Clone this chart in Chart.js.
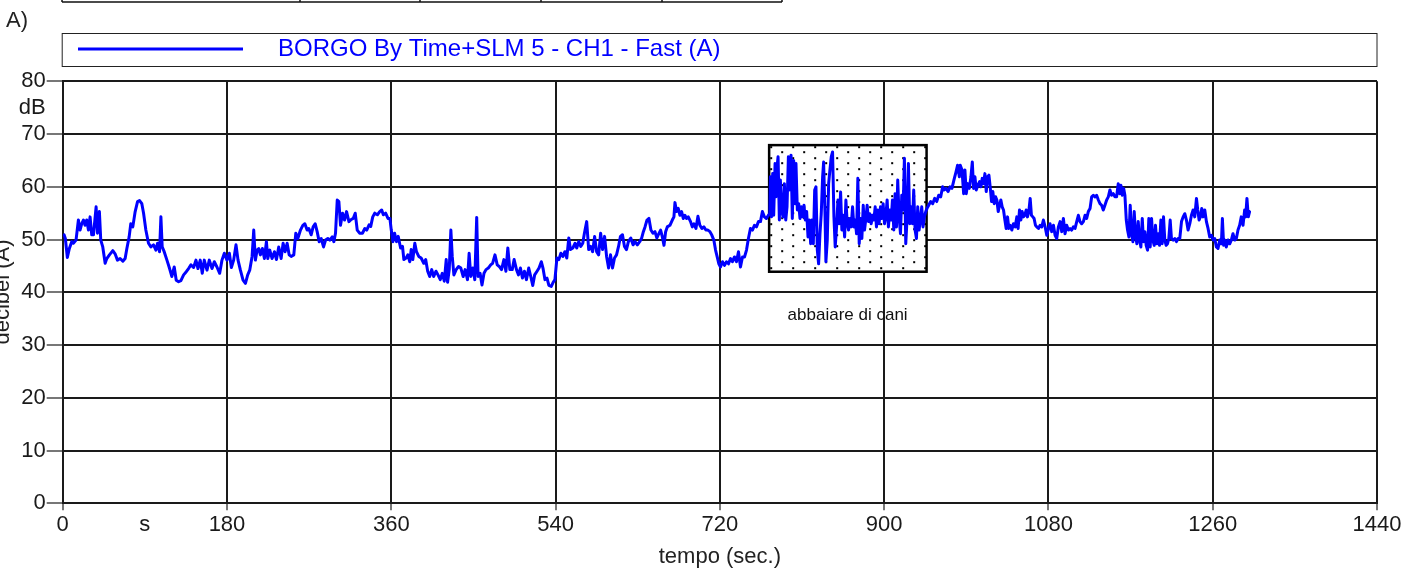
<!DOCTYPE html>
<html>
<head>
<meta charset="utf-8">
<script src="https://cdn.jsdelivr.net/npm/chart.js@4.4.1/dist/chart.umd.min.js"></script>
<style>
  body { margin: 0; background: #fff; }
  canvas { display: block; }
</style>
</head>
<body>
<canvas id="myChart" width="1423" height="572"></canvas>
<script>
const FONT = "'Liberation Sans', Arial, sans-serif";
const LEGEND_LABEL = 'BORGO By Time+SLM 5 - CH1 - Fast (A)';
const PANEL_LABEL = 'A)';
const X_TITLE = 'tempo (sec.)';
const Y_TITLE = 'decibel (A)';

// tick positions (seconds / dB) and their labels
const xTickValues = [0, 90, 180, 270, 360, 450, 540, 630, 720, 810, 900, 990, 1080, 1170, 1260, 1350, 1440];
const xTickLabels = ['0', 's', '180', '', '360', '', '540', '', '720', '', '900', '', '1080', '', '1260', '', '1440'];
const yTickValues = [0, 10, 20, 30, 40, 50, 60, 70, 75, 80];
const yTickLabels = ['0', '10', '20', '30', '40', '50', '60', '70', 'dB', '80'];

// [seconds, dB(A)]
const firstMinutes = [
  [1.5,50.9],[2.9,50.2],[5.1,46.6],[7.3,48.3],[9.9,49.6],[11.7,49.3],[14.6,49.9],[17.2,53.7],[19.0,51.8],[20.9,53.0],
  [22.7,53.7],[24.5,52.7],[26.3,53.7],[28.2,51.8],[30.0,54.3],[31.8,50.9],[33.7,50.9],[36.6,56.2],[38.1,51.2],[40.2,55.3],
  [41.7,49.9],[43.9,48.6],[46.5,45.5],[48.3,46.4],[51.2,47.1],[54.9,47.9],[57.4,47.3],[60.0,46.1],[62.9,46.4],[65.9,45.9],
  [68.4,46.4],[70.3,48.3],[72.8,50.5],[74.6,53.0],[76.8,52.4],[79.4,55.3],[82.0,57.2],[84.2,57.4],[86.7,56.8],[88.6,55.0],
  [91.1,51.8],[94.0,49.3],[96.6,48.6],[99.5,49.0],[102.1,48.0],[103.9,49.3],[106.1,47.7],[107.6,54.3],[109.0,48.6],[111.2,47.7],
  [114.2,46.1],[117.1,44.5],[119.6,43.0],[122.2,44.8],[124.4,42.3],[127.0,42.0],[129.5,42.2],[132.5,43.3],[135.4,43.9],[137.9,44.5],
  [140.5,45.2],[143.4,44.7],[146.0,46.1],[148.2,44.5],[150.7,46.1],[152.9,43.6],[155.1,46.1],[158.1,44.2],[160.6,46.1],[163.6,44.5],
  [166.1,45.8],[169.0,44.8],[172.0,43.6],[174.5,46.1],[177.1,47.4],[180.0,46.1],[182.6,47.4],[184.8,44.7],[187.3,46.1],[189.9,49.0],
  [192.1,46.1],[194.7,44.2],[197.6,42.3],[200.2,41.7],[202.7,43.3],[204.9,44.2],[207.5,46.8],[209.3,51.8],[211.1,46.1],[213.0,48.0],
  [214.8,48.3],[216.6,47.1],[218.8,48.3],[221.0,46.4],[223.2,49.6],[224.7,46.4],[226.9,48.0],[229.4,46.4],[232.0,47.7],[234.2,46.2],
  [236.7,48.6],[239.3,46.4],[241.5,49.3],[243.7,47.7],[245.9,49.3],[248.1,47.1],[250.3,46.8],[253.2,47.1],[255.4,51.2],[257.6,50.2],
  [260.5,51.8],[263.1,52.7],[265.3,53.0],[267.8,51.8],[269.7,52.1],[272.2,50.9],[274.4,52.4],[276.6,53.0],[278.8,51.5],[281.0,49.6],
  [283.2,50.2],[285.8,48.6],[288.0,49.9],[290.5,50.2],[292.7,49.9],[295.3,50.5],[297.1,49.6],[298.9,51.2],[300.8,57.5],[302.6,57.2],
  [304.4,52.7],[306.6,55.0],[308.8,53.7],[311.0,55.3],[313.6,53.4],[316.1,53.8],[318.3,54.0],[320.5,55.0],[322.7,51.8],[325.3,51.2]
];
const middleMinutes = [
  [328.4,51.2],[331.0,52.1],[333.1,51.8],[335.7,52.8],[337.5,52.5],[339.7,54.3],[341.9,55.0],[344.8,54.7],[347.3,55.3],[349.5,55.6],
  [351.3,54.7],[353.8,55.0],[356.4,54.0],[358.5,54.0],[360.0,51.8],[361.8,49.6],[363.6,51.2],[365.8,49.6],[367.6,50.6],[370.2,48.4],
  [372.3,48.7],[373.8,46.2],[376.3,46.5],[378.1,47.1],[380.3,45.8],[381.8,48.1],[383.6,46.2],[385.8,49.3],[387.6,47.7],[390.1,46.8],
  [392.7,46.5],[395.6,45.5],[397.7,46.2],[399.9,44.0],[402.1,43.0],[404.3,44.3],[406.5,43.0],[409.0,44.0],[411.2,43.3],[413.7,42.4],
  [415.9,43.6],[418.1,42.1],[420.2,46.2],[421.7,41.9],[423.5,44.3],[425.3,51.8],[426.8,46.8],[428.6,43.3],[431.1,44.3],[433.7,44.9],
  [436.2,44.6],[438.8,43.0],[440.9,44.3],[443.5,42.4],[445.3,47.4],[447.1,43.0],[449.3,44.6],[451.5,42.4],[453.6,54.2],[455.1,43.0],
  [457.3,43.6],[459.4,41.4],[461.6,43.6],[463.8,44.3],[466.3,44.6],[468.9,45.2],[471.0,45.5],[473.6,47.1],[476.1,45.2],[478.3,44.9],
  [480.8,44.3],[483.4,46.2],[485.6,44.0],[487.7,48.4],[489.9,44.3],[492.5,44.3],[494.6,46.2],[497.2,44.3],[499.4,43.3],[501.5,44.6],
  [503.7,42.7],[505.9,44.0],[508.1,42.4],[510.6,44.6],[512.8,43.0],[515.0,41.3],[517.1,43.3],[519.7,44.0],[521.9,44.6],[524.4,45.8],
  [526.2,44.6],[528.4,42.4],[530.6,42.7],[532.7,41.3],[535.3,41.1],[537.1,41.8],[539.3,42.4],[541.5,46.5],[543.6,46.2],[545.8,47.4],
  [548.0,46.8],[550.2,47.7],[552.3,46.5],[554.5,50.3],[556.3,48.1],[558.9,48.4],[561.4,49.3],[563.2,48.4],[565.4,49.6],[567.6,48.7],
  [569.8,49.3],[571.6,51.2],[574.1,53.4],[576.3,48.1],[578.5,48.7],[580.6,47.7],[582.8,50.6],[585.0,47.7],[587.2,47.1],[589.4,51.2],
  [591.5,48.1],[593.7,50.6],[595.9,46.8],[598.1,44.6],[600.2,47.1],[602.4,44.6],[604.6,46.5],[606.8,47.1],[609.0,48.7],[611.1,50.6],
  [613.3,50.9],[615.5,48.7],[617.7,48.1],[619.8,49.6],[622.4,50.3],[624.9,49.0],[627.1,49.6],[629.6,49.0],[632.2,49.6],[634.4,50.3],
  [636.2,51.5],[638.0,52.4],[640.2,53.7],[642.3,54.0],[644.5,51.8],[646.7,51.2],[648.9,51.5],[651.0,50.3],[652.5,50.9]
];
const beforeDogs = [
  [655.1,51.8],[657.0,50.5],[658.8,48.9],[660.6,51.5],[662.4,52.4],[665.3,52.7],[667.9,53.7],[669.7,54.3],[670.8,57.0],[672.6,55.3],
  [674.4,55.9],[676.3,54.6],[678.1,55.3],[679.9,54.0],[681.7,54.6],[683.6,54.0],[685.4,54.3],[687.9,53.4],[689.8,52.4],[691.6,53.0],
  [693.8,52.1],[696.0,54.4],[698.1,52.7],[700.3,52.1],[702.5,52.4],[704.7,51.8],[706.9,51.8],[709.1,51.5],[711.3,50.8],[713.4,49.9],
  [715.3,48.0],[717.1,46.7],[718.9,45.4],[720.7,44.8],[722.9,45.8],[725.1,45.1],[727.3,45.8],[729.5,45.4],[731.7,46.4],[733.8,45.8],
  [736.0,46.7],[738.2,45.8],[740.4,47.7],[742.6,44.8],[744.8,46.7],[747.0,46.7],[749.2,48.0],[751.3,50.2],[753.5,52.1],[755.7,51.8],
  [757.9,52.7],[760.1,52.4],[762.3,53.4],[764.5,53.4],[766.6,55.3],[768.8,54.3],[771.0,54.0],[773.2,54.6],[774.7,54.9]
];
const dogsBarking = [
  [775.4,61.9],[776.5,54.3],[777.9,62.5],[779.0,54.6],[780.5,64.4],[781.6,58.1],[782.7,63.8],[783.8,65.7],[785.2,53.7],[786.3,61.3],
  [787.8,55.6],[789.2,54.3],[790.7,60.6],[792.2,53.7],[793.6,56.2],[795.1,65.7],[796.5,59.4],[798.0,66.0],[799.4,54.0],[800.9,65.0],
  [802.4,56.8],[803.4,64.4],[804.9,55.6],[806.4,56.8],[807.8,54.0],[809.3,56.2],[810.7,54.3],[812.2,56.5],[813.7,53.7],[815.1,55.3],
  [816.6,50.5],[818.0,53.7],[819.5,49.2],[820.9,53.7],[822.4,49.2],[823.9,59.4],[825.3,60.0],[826.8,48.0],[828.2,45.4],[829.7,51.1],
  [831.1,54.9],[832.6,61.9],[833.7,64.7],[835.2,54.9],[836.2,45.8],[837.7,49.9],[839.2,60.6],[840.6,63.2],[842.1,65.7],[843.5,66.6],
  [845.0,54.3],[846.4,48.6],[847.9,52.4],[849.4,57.5],[850.8,53.0],[852.3,59.0],[853.7,51.8],[855.2,54.6],[856.7,50.5],[858.1,57.5],
  [859.6,53.0],[861.0,51.8],[862.5,54.0],[863.9,52.4],[865.4,56.2],[866.9,52.4],[868.3,53.7],[869.8,51.1],[871.2,61.6],[872.7,49.2],
  [874.1,54.0],[875.6,50.2],[877.1,56.5],[878.5,51.8],[880.0,54.0],[881.4,56.5],[882.9,53.4],[884.3,54.9],[885.8,53.0],[887.3,54.6],
  [888.7,53.7],[890.2,56.2],[891.6,52.4],[893.1,55.6],[894.5,53.0],[896.0,56.2],[897.5,54.0],[898.9,56.8],[900.4,53.0],[901.8,54.3],
  [903.3,57.5],[904.7,52.4],[906.2,55.6],[907.7,53.7],[909.1,57.5],[910.6,51.8],[912.0,58.7],[913.5,52.4],[914.9,61.3],[916.4,54.3],
  [917.9,51.1],[919.3,58.4],[920.8,55.6],[922.2,65.4],[923.7,49.2],[925.2,54.3],[926.6,64.4],[928.1,53.0],[929.5,56.2],[931.0,53.0],
  [932.4,59.4],[933.9,51.8],[935.4,50.2],[936.8,56.2],[938.3,51.8],[939.7,53.7],[941.2,56.2],[942.6,52.4],[944.1,54.3],[945.6,55.3]
];
const lastMinutes = [
  [947.0,55.9],[948.8,56.5],[951.0,57.2],[953.2,56.8],[955.4,57.8],[957.6,57.2],[959.8,58.4],[962.0,58.1],[964.1,60.0],[965.6,59.4],
  [967.8,59.7],[970.0,59.1],[972.2,60.0],[974.3,59.7],[976.5,61.3],[978.7,62.8],[980.5,64.1],[982.4,61.9],
  [983.4,64.1],[985.3,63.2],[987.1,58.7],[988.5,63.2],[990.0,58.7],[991.5,60.6],[993.3,59.7],[995.1,61.9],[996.6,64.7],[998.0,59.7],
  [999.5,61.9],[1000.9,59.4],[1002.7,60.3],[1004.6,61.0],[1006.0,60.0],[1007.5,61.6],[1008.9,60.6],[1010.4,62.5],[1011.9,59.1],[1013.3,61.9],
  [1014.8,62.2],[1016.2,60.0],[1017.7,57.2],[1019.1,59.1],[1020.6,56.8],[1022.1,58.1],[1023.5,57.5],[1025.0,55.3],[1026.4,56.5],[1027.9,57.5],
  [1029.3,56.2],[1030.8,55.6],[1032.3,53.7],[1033.7,52.1],[1035.2,54.3],[1036.6,52.1],[1038.1,52.7],[1039.9,51.8],[1041.7,53.0],[1043.6,52.4],
  [1045.4,54.3],[1046.8,52.1],[1048.3,55.6],[1049.8,53.7],[1051.2,55.3],[1052.7,54.3],[1054.1,54.6],[1055.6,55.6],[1057.0,54.3],[1058.5,55.3],
  [1060.0,57.8],[1061.4,54.6],[1062.9,54.3],[1064.3,54.0],[1065.8,52.7],[1067.2,52.4],[1069.1,52.1],[1070.9,52.7],[1072.7,52.4],[1074.5,53.7],
  [1076.4,52.4],[1078.2,50.8],[1080.0,52.1],[1081.8,53.0],[1083.6,51.5],[1085.5,52.7],[1087.3,50.8],[1089.1,50.2],[1090.9,52.4],[1092.8,53.4],
  [1094.6,51.5],[1096.4,54.0],[1098.2,51.1],[1100.0,52.7],[1101.9,51.8],[1103.7,52.1],[1105.5,51.8],[1107.3,52.4],[1109.2,52.1],[1111.0,53.4],
  [1112.8,54.6],[1114.6,53.4],[1116.4,53.0],[1118.3,53.4],[1120.1,54.6],[1121.9,54.0],[1123.7,55.3],[1125.6,55.9],[1127.4,58.1],[1129.2,58.4],
  [1131.0,58.1],[1132.8,58.4],[1134.7,57.5],[1136.5,56.8],[1138.3,56.5],[1140.1,55.6],[1141.9,56.5],[1143.8,57.5],[1145.6,58.1],[1147.4,59.4],
  [1149.2,58.4],[1151.1,58.7],[1152.9,58.1],[1154.7,58.1],[1156.5,60.6],[1158.0,58.7],[1159.4,60.3],[1160.9,58.4],[1162.4,59.7],[1163.8,58.4],
  [1165.3,53.7],[1166.7,51.8],[1168.2,50.5],[1169.6,56.5],[1171.1,51.1],[1172.6,49.6],[1174.0,55.3],[1175.5,50.8],[1176.9,49.2],[1178.4,53.4],
  [1179.8,49.9],[1181.3,48.6],[1182.8,54.0],[1184.2,49.6],[1185.7,51.5],[1187.1,48.9],[1188.6,48.0],[1190.0,54.0],[1191.5,48.6],[1193.0,54.0],
  [1194.4,49.9],[1195.9,48.9],[1197.3,52.7],[1198.8,49.2],[1200.3,51.1],[1201.7,48.9],[1203.2,53.7],[1204.6,49.2],[1206.1,54.3],[1207.5,49.9],
  [1209.0,48.9],[1210.5,49.2],[1211.9,50.2],[1213.4,53.7],[1214.8,50.2],[1216.7,49.9],[1218.5,50.2],[1220.3,49.6],[1222.1,50.2],[1223.9,50.2],
  [1225.8,53.4],[1227.6,54.3],[1229.4,54.9],[1231.2,53.7],[1233.0,51.8],[1234.9,53.0],[1236.7,54.6],[1238.5,55.6],[1240.3,54.3],[1242.2,57.8],
  [1243.6,55.6],[1245.1,53.7],[1246.5,54.3],[1248.0,55.9],[1249.4,54.3],[1251.3,55.6],[1253.1,53.4],[1254.9,52.1],[1256.7,50.5],[1258.6,50.8],
  [1260.4,49.9],[1262.2,50.2],[1264.0,48.6],[1265.8,48.3],[1267.7,49.9],[1269.5,49.2],[1270.6,54.0],[1272.0,48.9],[1273.5,49.9],[1274.9,48.6],
  [1276.8,49.9],[1278.6,49.2],[1280.4,49.9],[1282.2,51.1],[1284.1,49.9],[1285.9,50.2],[1287.7,51.8],[1289.5,52.7],[1291.3,54.3],[1293.2,52.7],
  [1295.0,55.6],[1296.1,54.3],[1297.5,57.8],[1299.0,54.3],[1300.4,55.3]
];

// the marked "dog barking" zone, in seconds / dB
const dogZone = { from: 774, to: 946.5, low: 43.9, high: 67.9 };
const dogNote = { x: 860, y: 35.6, text: 'abbaiare di cani' };

const trace = [...firstMinutes, ...middleMinutes, ...beforeDogs, ...dogsBarking, ...lastMinutes]
  .map(([t, db]) => ({ x: t, y: db }));

function dotPattern(ctx) {
  const tile = document.createElement('canvas');
  tile.width = 22; tile.height = 11;
  const t = tile.getContext('2d');
  t.fillStyle = '#fff';
  t.fillRect(0, 0, 22, 11);
  t.fillStyle = '#000';
  t.fillRect(1, 1, 2, 2);
  t.fillRect(12, 6, 2, 2);
  return ctx.createPattern(tile, 'repeat');
}

// hatched box behind the line
const zonePlugin = {
  id: 'zone',
  beforeDatasetsDraw(chart) {
    const { ctx, scales: { x, y } } = chart;
    const l = x.getPixelForValue(dogZone.from), r = x.getPixelForValue(dogZone.to);
    const t = y.getPixelForValue(dogZone.high), b = y.getPixelForValue(dogZone.low);
    ctx.save();
    ctx.translate(l, t);
    ctx.fillStyle = dotPattern(ctx);
    ctx.fillRect(0, 0, r - l, b - t);
    ctx.restore();
    ctx.save();
    ctx.strokeStyle = '#000';
    ctx.lineWidth = 2.5;
    ctx.strokeRect(l, t, r - l, b - t);
    ctx.fillStyle = '#111';
    ctx.font = '17px ' + FONT;
    ctx.textAlign = 'center';
    ctx.textBaseline = 'middle';
    ctx.fillText(dogNote.text, x.getPixelForValue(dogNote.x), y.getPixelForValue(dogNote.y));
    ctx.restore();
  }
};

// legend box, header table stub, titles
const framePlugin = {
  id: 'frame',
  afterDraw(chart) {
    const { ctx, chartArea } = chart;
    ctx.save();
    // header table stub
    ctx.strokeStyle = '#111';
    ctx.lineWidth = 1.5;
    ctx.beginPath();
    ctx.moveTo(62, 2); ctx.lineTo(782, 2);
    [62, 300, 420, 541, 662, 782].forEach(px => { ctx.moveTo(px, 0); ctx.lineTo(px, 2); });
    ctx.stroke();

    ctx.fillStyle = '#222';
    ctx.font = '22px ' + FONT;
    ctx.textBaseline = 'middle';
    ctx.textAlign = 'left';
    ctx.fillText(PANEL_LABEL, 6, 21);

    // legend
    ctx.lineWidth = 1;
    ctx.strokeStyle = '#222';
    ctx.strokeRect(chartArea.left - 0.5, 33.5, chartArea.right - chartArea.left + 0.5, 33);
    ctx.strokeStyle = '#0000ff';
    ctx.lineWidth = 3;
    ctx.beginPath();
    ctx.moveTo(78, 49); ctx.lineTo(243, 49);
    ctx.stroke();
    ctx.fillStyle = '#0000ff';
    ctx.font = '24px ' + FONT;
    ctx.fillText(LEGEND_LABEL, 278, 49);

    // axis titles
    ctx.fillStyle = '#222';
    ctx.font = '22px ' + FONT;
    ctx.textAlign = 'center';
    ctx.fillText(X_TITLE, (chartArea.left + chartArea.right) / 2, 557);
    ctx.translate(9, 292);
    ctx.rotate(-Math.PI / 2);
    ctx.textBaseline = 'alphabetic';
    ctx.fillText(Y_TITLE, 0, 0);
    ctx.restore();
  }
};

const gridColor = (major) => (ctx) => (ctx.tick && major(ctx.tick.value)) ? '#1a1a1a' : 'rgba(0,0,0,0)';
const tickMarkColor = (major) => (ctx) => (ctx.tick && major(ctx.tick.value)) ? '#777' : 'rgba(0,0,0,0)';
const xMajor = v => v % 180 === 0;
const yMajor = v => v % 10 === 0;

new Chart(document.getElementById('myChart'), {
  type: 'line',
  data: {
    datasets: [{
      label: LEGEND_LABEL,
      data: trace,
      borderColor: '#0000ff',
      borderWidth: 3,
      borderJoinStyle: 'round',
      borderCapStyle: 'round',
      pointRadius: 0,
      tension: 0,
      fill: false,
    }]
  },
  options: {
    responsive: false,
    animation: false,
    layout: { padding: { top: 81.3, right: 46, left: 0, bottom: 0 } },
    plugins: {
      legend: { display: false },
      tooltip: { enabled: false },
      title: { display: false },
    },
    scales: {
      x: {
        type: 'linear',
        min: 0,
        max: 1440,
        afterBuildTicks: s => { s.ticks = xTickValues.map(v => ({ value: v })); },
        afterFit: s => { s.height = 68.7; },
        grid: { color: gridColor(xMajor), lineWidth: 2, tickLength: 7, tickColor: tickMarkColor(xMajor), drawTicks: true },
        border: { color: '#1a1a1a', width: 2 },
        ticks: {
          autoSkip: false,
          maxRotation: 0,
          padding: 1,
          color: '#1a1a1a',
          font: { family: FONT, size: 22 },
          callback: (v, i) => xTickLabels[i],
        },
      },
      y: {
        min: 0,
        max: 80,
        afterBuildTicks: s => { s.ticks = yTickValues.map(v => ({ value: v })); },
        afterFit: s => { s.width = 62.7; },
        grid: { color: gridColor(yMajor), lineWidth: 2, tickLength: 16, tickColor: tickMarkColor(yMajor), drawTicks: true },
        border: { color: '#1a1a1a', width: 2 },
        ticks: {
          autoSkip: false,
          padding: 1,
          color: '#1a1a1a',
          font: { family: FONT, size: 22 },
          callback: (v, i) => yTickLabels[i],
        },
      },
    },
  },
  plugins: [zonePlugin, framePlugin],
});
</script>
</body>
</html>
